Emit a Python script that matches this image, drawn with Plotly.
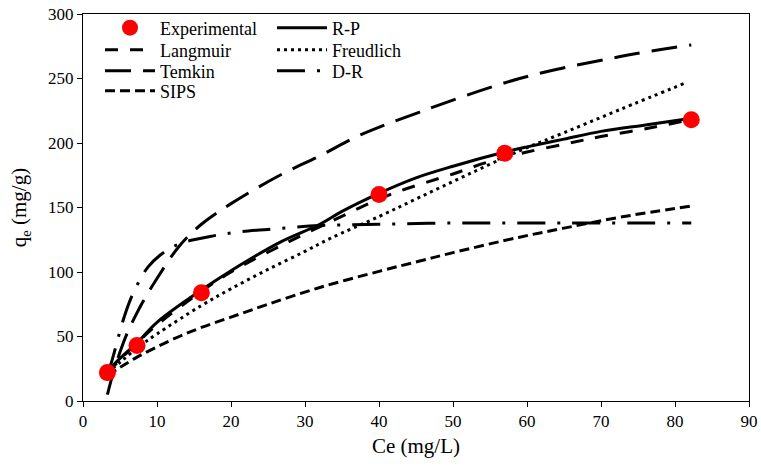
import plotly.graph_objects as go

# Experimental data
exp_ce = [3.3, 7.3, 16.0, 40.0, 57.0, 82.2]
exp_qe = [22, 43, 84, 160, 192, 218]

# R-P model (solid)
rp_ce = [3.3, 5, 7.3, 10, 16, 20, 26.6, 32, 35, 40, 45, 50, 57, 60, 65, 70, 76, 82]
rp_qe = [23, 33, 45, 61, 86, 101, 123, 137, 147, 161, 173, 182, 193, 197, 203, 209, 214, 219]

# Langmuir model
lang_ce = [3.3, 5, 7.3, 10, 16, 20, 26.6, 33.8, 41.5, 50, 54.6, 60, 65.8, 70, 76, 82]
lang_qe = [22, 32, 45, 59, 85, 100, 120, 140, 160, 176, 185, 193, 200, 205, 211, 218]

# Freundlich model
freu_ce = [3.3, 5, 7.3, 10, 16, 20, 25, 30, 33.4, 40, 45.5, 51.8, 59, 65, 72.6, 81.6]
freu_qe = [22, 30, 41, 52, 74, 87, 102, 116, 126, 143, 158, 175, 194, 208, 226, 247]

# Temkin model
temk_ce = [3.3, 4, 5, 6, 7, 8, 10, 13, 16, 20, 26.6, 32, 37.4, 45.5, 59, 72.6, 82.2]
temk_qe = [5, 20, 38, 53, 65, 76, 95, 120, 137, 153, 175, 190, 206, 224, 250, 267, 276]

# D-R model
dr_ce = [3.3, 4, 4.8, 5.5, 6.5, 7.7, 8.8, 10.4, 12, 13.6, 17.6, 21, 25, 32, 40, 50, 60, 70, 82.2]
dr_qe = [20, 33, 50, 64, 80, 94, 104, 113, 119, 123, 128, 131, 133, 136, 137, 138, 138, 138, 138]

# SIPS model
sips_ce = [3.3, 5, 7.3, 10, 13, 16, 20, 25, 32, 40, 45.5, 50, 59, 65, 72.6, 82]
sips_qe = [20, 26, 34, 42, 50, 57, 65, 75, 88, 100.5, 108.5, 115, 127, 134, 142.5, 151]

x_ticks = [0, 10, 20, 30, 40, 50, 60, 70, 80, 90]
y_ticks = [0, 50, 100, 150, 200, 250, 300]

FONT = "Liberation Serif"
LW = 3

# plot area in pixels (for legend placement only)
L, R, T, B = 83, 749, 14, 401

fig = go.Figure()

def line(x, y, name, dash, legend):
    fig.add_trace(go.Scatter(
        x=x, y=y, name=name, mode="lines",
        line=dict(color="black", width=LW, dash=dash, shape="spline"),
        legend=legend,
    ))

line(temk_ce, temk_qe, "Temkin", "26px,12px", "legend3")
line(sips_ce, sips_qe, "SIPS", "10px,5px", "legend4")
line(lang_ce, lang_qe, "Langmuir", "13px,12px", "legend2")
line(dr_ce, dr_qe, "D-R", "28px,12px,3px,12px", "legend7")
line(freu_ce, freu_qe, "Freudlich", "3px,4px", "legend6")
line(rp_ce, rp_qe, "R-P", "solid", "legend5")

fig.add_trace(go.Scatter(
    x=exp_ce, y=exp_qe, name="Experimental", mode="markers",
    marker=dict(color="#ff0000", size=17, line=dict(width=0)),
    legend="legend",
))

# legend positions: (left px of item, row centre px)
leg_pos = {
    "legend": (100, 28), "legend2": (100, 50), "legend3": (100, 71), "legend4": (100, 91),
    "legend5": (272, 28), "legend6": (272, 50), "legend7": (272, 71),
}

legends = {}
for key, (px, py) in leg_pos.items():
    legends[key] = dict(
        x=(px - L) / (R - L), y=(B - py) / (B - T),
        xanchor="left", yanchor="middle",
        font=dict(family=FONT, size=18, color="black"),
        bgcolor="rgba(0,0,0,0)", borderwidth=0,
        itemwidth=50,
    )

fig.update_layout(
    width=761, height=466,
    margin=dict(l=L, r=761 - R, t=T, b=466 - B, autoexpand=False),
    paper_bgcolor="white", plot_bgcolor="white",
    font=dict(family=FONT, size=17, color="black"),
    showlegend=True,
    xaxis=dict(
        range=[0, 90], tickvals=x_ticks, ticks="outside", ticklen=5,
        tickwidth=1, tickcolor="black", showline=True, linecolor="black",
        linewidth=1, mirror=True, showgrid=False, zeroline=False, automargin=False,
        title=dict(text="Ce (mg/L)", font=dict(family=FONT, size=21), standoff=7),
        tickfont=dict(family=FONT, size=17),
    ),
    yaxis=dict(
        range=[0, 300], tickvals=y_ticks, ticks="outside", ticklen=5,
        tickwidth=1, tickcolor="black", showline=True, linecolor="black",
        linewidth=1, mirror=True, showgrid=False, zeroline=False, automargin=False,
        title=dict(text="q<sub>e</sub> (mg/g)", font=dict(family=FONT, size=21), standoff=15),
        tickfont=dict(family=FONT, size=17),
    ),
    **legends,
)

fig.write_html("out.html")
